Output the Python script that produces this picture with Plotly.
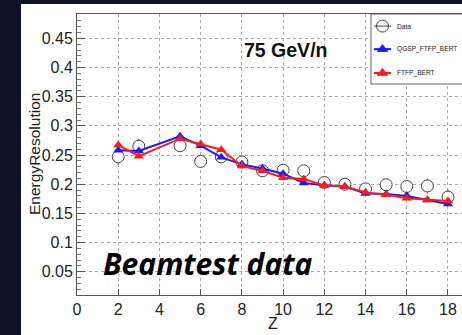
import plotly.graph_objects as go

# Energy resolution vs. charge Z at 75 GeV/n
z_data = [2, 3, 5, 6, 7, 8, 9, 10, 11, 12, 13, 14, 15, 16, 17, 18]
res_data = [0.247, 0.265, 0.266, 0.239, 0.247, 0.238, 0.223, 0.224, 0.223,
            0.203, 0.200, 0.192, 0.199, 0.196, 0.197, 0.178]
res_err = [0.014, 0.013, 0.011, 0.010, 0.010, 0.010, 0.010, 0.010, 0.010,
           0.010, 0.010, 0.010, 0.010, 0.010, 0.013, 0.013]

z_sim = [2, 3, 5, 6, 7, 8, 9, 10, 11, 12, 13, 14, 15, 16, 17, 18]
res_qgsp = [0.258, 0.257, 0.282, 0.266, 0.246, 0.234, 0.227, 0.218, 0.202,
            0.198, 0.196, 0.184, 0.183, 0.180, 0.173, 0.166]
res_ftfp = [0.267, 0.248, 0.278, 0.269, 0.259, 0.231, 0.223, 0.211, 0.209,
            0.198, 0.196, 0.186, 0.182, 0.176, 0.173, 0.171]

FONT = "Liberation Sans, Arial, Helvetica, sans-serif"
BLUE = "#1a1aff"
RED = "#ff1a1a"
DATA_LINE = "#444444"
NAVY = "#0e1128"

fig = go.Figure()
fig.add_trace(go.Scatter(
    x=z_data, y=res_data, mode="markers", name="Data",
    marker=dict(symbol="circle", size=12, color="white",
                line=dict(color=DATA_LINE, width=1)),
    error_y=dict(type="data", array=res_err, color="#555555", thickness=1, width=0),
))
fig.add_trace(go.Scatter(
    x=z_sim, y=res_qgsp, mode="lines+markers", name="QGSP_FTFP_BERT",
    line=dict(color=BLUE, width=2),
    marker=dict(symbol="triangle-up", size=9, color=BLUE),
))
fig.add_trace(go.Scatter(
    x=z_sim, y=res_ftfp, mode="lines+markers", name="FTFP_BERT",
    line=dict(color=RED, width=2),
    marker=dict(symbol="triangle-up", size=9, color=RED),
))

# Legend box drawn on an overlay axis spanning the plot area in [0, 1] units
box_x0, box_x1, box_y0, box_y1 = 0.7636, 1.05, 0.7509, 1.0
fig.add_trace(go.Scatter(
    x=[box_x0, box_x1, box_x1, box_x0, box_x0],
    y=[box_y0, box_y0, box_y1, box_y1, box_y0],
    xaxis="x2", yaxis="y2", mode="lines", fill="toself", fillcolor="white",
    line=dict(color="#666666", width=1), showlegend=False, hoverinfo="skip",
))

legend_entries = [
    ("Data", DATA_LINE, "circle", 12, "rgba(0,0,0,0)", 1, 0.957),
    ("QGSP_FTFP_BERT", BLUE, "triangle-up", 9, BLUE, 2, 0.875),
    ("FTFP_BERT", RED, "triangle-up", 9, RED, 2, 0.790),
]
sym0, sym1, text_x = 0.7714, 0.8156, 0.826
sym_mid = (sym0 + sym1) / 2
annotations = []
for name, col, sym, size, fill, lw, yy in legend_entries:
    fig.add_trace(go.Scatter(
        x=[sym0, sym1], y=[yy, yy],
        xaxis="x2", yaxis="y2", mode="lines", showlegend=False, hoverinfo="skip",
        line=dict(color=col, width=lw),
    ))
    fig.add_trace(go.Scatter(
        x=[sym_mid], y=[yy],
        xaxis="x2", yaxis="y2", mode="markers", showlegend=False, hoverinfo="skip",
        marker=dict(symbol=sym, size=size, color=fill,
                    line=dict(color=col, width=1)),
    ))
    annotations.append(dict(
        text=name, xref="x2", yref="y2", x=text_x, y=yy,
        xanchor="left", yanchor="middle", showarrow=False,
        font=dict(size=6.6, family=FONT, color="#222222"),
    ))

annotations += [
    dict(text="<b>75 GeV/n</b>", xref="paper", yref="paper",
         x=0.428, y=0.873, xanchor="left", yanchor="middle",
         showarrow=False, font=dict(size=19.5, family=FONT, color="#111111")),
    dict(text="<b><i>Beamtest data</i></b>", xref="paper", yref="paper",
         x=0.063, y=0.112, xanchor="left", yanchor="middle",
         showarrow=False, font=dict(size=30, family="Open Sans", color="black")),
    dict(text="EnergyResolution", xref="paper", yref="paper",
         x=-0.109, y=0.502, xanchor="center", yanchor="middle", textangle=-90,
         showarrow=False, font=dict(size=15.5, family=FONT, color="#222222")),
    dict(text="Z", xref="paper", yref="paper",
         x=0.509, y=-0.103, xanchor="center", yanchor="middle",
         showarrow=False, font=dict(size=16, family=FONT, color="#222222")),
]

fig.update_layout(
    width=462, height=335,
    margin=dict(l=77, r=0, t=14, b=40, autoexpand=False),
    paper_bgcolor="white",
    plot_bgcolor="white",
    font=dict(family=FONT, color="#111111"),
    showlegend=False,
    xaxis=dict(
        range=[0, 18.68], tickmode="linear", tick0=0, dtick=2,
        showline=True, linecolor="#555555", linewidth=1, mirror=True,
        ticks="inside", ticklen=6, tickcolor="#555555",
        showgrid=True, gridcolor="#aaaaaa", griddash="dot", gridwidth=1,
        zeroline=False, tickfont=dict(size=16, family=FONT, color="#222222"),
    ),
    yaxis=dict(
        range=[0.0101, 0.4917], tickmode="linear", tick0=0, dtick=0.05,
        showline=True, linecolor="#555555", linewidth=1,
        ticks="inside", ticklen=8, tickcolor="#555555",
        minor=dict(ticks="inside", ticklen=4, dtick=0.01, tickcolor="#777777",
                   showgrid=False),
        showgrid=True, gridcolor="#aaaaaa", griddash="dot", gridwidth=1,
        zeroline=False, tickfont=dict(size=16, family=FONT, color="#222222"),
    ),
    xaxis2=dict(overlaying="x", anchor="y2", range=[0, 1], visible=False),
    yaxis2=dict(overlaying="y", anchor="x2", range=[0, 1], visible=False),
    # dark surround: left strip and top strip
    shapes=[
        dict(type="rect", xref="paper", yref="paper",
             x0=-0.25, x1=-0.1455, y0=-0.3, y1=1.2,
             fillcolor=NAVY, line=dict(width=0), layer="below"),
        dict(type="rect", xref="paper", yref="paper",
             x0=-0.25, x1=1.3, y0=1.0356, y1=1.2,
             fillcolor=NAVY, line=dict(width=0), layer="below"),
    ],
    annotations=annotations,
)

fig.write_html("out.html")
